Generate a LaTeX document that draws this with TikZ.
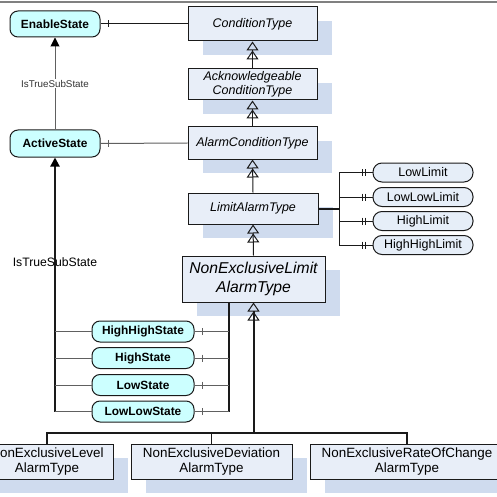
\documentclass[tikz,border=0pt]{standalone}
\usepackage{fontspec}
\setmainfont{Liberation Sans}
\usetikzlibrary{arrows.meta,shadows,calc}
\definecolor{clsfill}{HTML}{E8EEF8}
\definecolor{shadowc}{HTML}{CFDBEE}
\definecolor{statefill}{HTML}{CCFFFF}
\definecolor{limfill}{HTML}{E6EEF8}
\definecolor{edgec}{HTML}{1A1A1A}
\definecolor{greyline}{HTML}{606060}
\begin{document}
\begin{tikzpicture}[x=1pt,y=-1pt,
  shad/.style={general shadow={fill=shadowc, shadow xshift=14.5pt, shadow yshift=-14pt}},
  cls/.style={shad, draw=edgec, line width=1pt, fill=clsfill, align=center, inner sep=0pt,
    font=\fontsize{12.5}{14}\selectfont\itshape},
  bot/.style={shad, draw=edgec, line width=1pt, fill=clsfill, align=center, inner sep=0pt,
    minimum height=35pt, font=\fontsize{13.4}{15.5}\selectfont},
  st/.style={draw=edgec, line width=1pt, fill=statefill, rounded corners=8pt, inner sep=0pt,
    font=\fontsize{11.9}{13}\selectfont\bfseries},
  sst/.style={st, minimum width=102pt, minimum height=21pt},
  lim/.style={draw=edgec, line width=1pt, fill=limfill, rounded corners=9pt, inner sep=0pt,
    minimum width=100pt, minimum height=19pt, font=\fontsize{12.5}{14}\selectfont},
  conn/.style={draw=edgec, line width=1pt},
  gconn/.style={draw=greyline, line width=1pt},
  gen/.style={draw=edgec, line width=1pt,
    -{Triangle[open,length=9pt,width=12pt,line width=1pt]Triangle[open,length=9pt,width=12pt,line width=1pt]}},
  sub/.style={-{Triangle[length=9pt,width=9pt,color=black,fill=black]}},
  tickc/.style={line width=0.9pt}
]
\useasboundingbox (0,0) rectangle (497,497);
\draw[line width=1.6pt, gray] (0,2) -- (497,2);

% class nodes
\node[cls, minimum width=129pt, minimum height=34pt] (ct) at (252.5,24) {ConditionType};
\node[cls, minimum width=129pt, minimum height=31pt] (ack) at (252.5,84.5) {Acknowledgeable\\ConditionType};
\node[cls, minimum width=129pt, minimum height=32pt] (alarm) at (252.5,143) {AlarmConditionType};
\node[cls, minimum width=130pt, minimum height=31pt] (limit) at (253,208.5) {LimitAlarmType};
\node[cls, minimum width=143pt, minimum height=46pt, font=\fontsize{15.7}{18.5}\selectfont\itshape] (nel) at (253.5,279) {NonExclusiveLimit\\AlarmType};

% bottom classes
\node[bot, minimum width=132pt] (lev) at (47,461.5) {NonExclusiveLevel\\AlarmType};
\node[bot, minimum width=161pt] (dev) at (211.5,461.5) {NonExclusiveDeviation\\AlarmType};
\node[bot, minimum width=194pt] (rate) at (407,461.5) {NonExclusiveRateOfChange\\AlarmType};

% state nodes
\node[st, minimum width=90pt, minimum height=26pt] (enable) at (55,24) {EnableState};
\node[st, minimum width=90pt, minimum height=27pt] (active) at (55,143.5) {ActiveState};
\node[sst] (hh) at (143,331.5) {HighHighState};
\node[sst] (hi) at (143,358) {HighState};
\node[sst] (lo) at (143,385) {LowState};
\node[sst] (ll) at (143,411.5) {LowLowState};

% limit nodes
\node[lim] (l1) at (423,172.5) {LowLimit};
\node[lim] (l2) at (423,197) {LowLowLimit};
\node[lim] (l3) at (423,221) {HighLimit};
\node[lim] (l4) at (423,245) {HighHighLimit};

% generalizations
\draw[gen] (ack.north) -- (ct.south);
\draw[gen] (alarm.north) -- (ack.south);
\draw[gen] (limit.north) -- (alarm.south);
\draw[gen] (nel.north) -- (limit.south);
\coordinate (busmid) at (253.5,433);
\draw[gen, line width=2pt] (busmid) -- (nel.south);
\draw[conn, line width=1.3pt] (lev.north) -- (lev.north |- busmid) -| (rate.north);
\draw[conn, line width=1.3pt] (dev.north) -- (dev.north |- busmid);

% state connectors
\draw[conn] (ct.west) -- (enable.east);
\draw[conn, tickc] ([xshift=8pt]enable.east) ++(0,-3.5) -- ++(0,7);
\draw[gconn] (alarm.west) -- (active.east);
\draw[gconn, tickc] ([xshift=8pt]active.east) ++(0,-3.5) -- ++(0,7);
\draw[gconn, sub] (active.north) -- (enable.south)
  node[midway, fill=white, inner sep=1pt, text=black!80, font=\fontsize{9.8}{11}\selectfont] (lab1) {IsTrueSubState};

\coordinate (vl) at (55,411.5);
\draw[conn, line width=2pt, sub] (vl) -- (active.south)
  node[pos=0.59, text=black, font=\fontsize{12.2}{14}\selectfont] (lab2) {IsTrueSubState};
\foreach \s in {hh,hi,lo,ll} {
  \draw[gconn] (\s.west) -- (\s.west -| vl);
}
\coordinate (vr) at (229,302);
\draw[conn, line width=1.5pt] (vr) -- (vr |- ll.east);
\foreach \s in {hh,hi,lo,ll} {
  \draw[gconn] (\s.east) -- (\s.east -| vr);
  \draw[gconn, tickc] ([xshift=8pt]\s.east) ++(0,-3.5) -- ++(0,7);
}

% limit connectors
\coordinate (lx) at (339,208.5);
\draw[conn, line width=2pt] (limit.east) -- (lx);
\draw[conn] (lx |- l1.west) -- (lx |- l4.west);
\foreach \s in {l1,l2,l3,l4} {
  \draw[conn] (lx |- \s.west) -- (\s.west);
  \draw[conn, tickc] ([xshift=-10pt]\s.west) ++(0,-3.5) -- ++(0,7);
  \draw[conn, tickc] ([xshift=-7pt]\s.west) ++(0,-3.5) -- ++(0,7);
}
\end{tikzpicture}
\end{document}
